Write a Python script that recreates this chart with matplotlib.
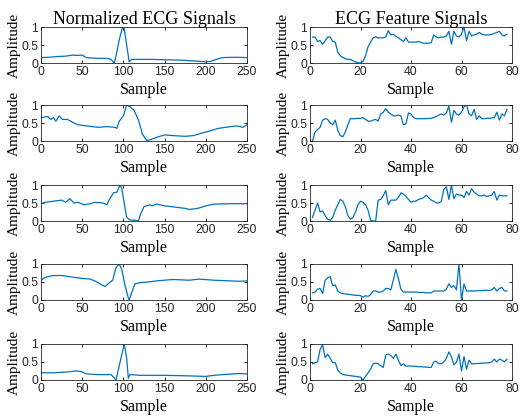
import numpy as np
import matplotlib
matplotlib.use("Agg")
import matplotlib.pyplot as plt

# Normalized ECG signals (left column), read at selected sample positions
ecg_x = [
    [0, 10, 20, 30, 38, 45, 50, 55, 60, 70, 80, 85, 89, 92, 95, 99, 101, 104, 107, 110, 120, 135, 150, 170, 190, 200, 205, 210, 220, 235, 250],
    [0, 8, 12, 15, 18, 22, 26, 32, 40, 45, 55, 62, 70, 80, 90, 92, 95, 100, 104, 108, 113, 118, 123, 128, 132, 140, 150, 160, 175, 185, 195, 205, 215, 230, 238, 245, 250],
    [0, 5, 15, 25, 30, 35, 40, 45, 52, 60, 65, 75, 80, 83, 88, 92, 96, 98, 101, 104, 108, 115, 118, 121, 125, 132, 135, 140, 150, 165, 175, 180, 190, 200, 210, 230, 250],
    [0, 5, 15, 25, 40, 50, 60, 68, 75, 78, 83, 87, 91, 95, 98, 102, 106, 107, 110, 114, 120, 130, 140, 150, 160, 170, 180, 192, 210, 230, 240, 250],
    [0, 15, 30, 42, 48, 55, 70, 85, 88, 91, 95, 101, 104, 106, 108, 120, 150, 170, 185, 200, 210, 220, 240, 250],
]
ecg_y = [
    [0.15, 0.16, 0.18, 0.19, 0.22, 0.21, 0.22, 0.15, 0.14, 0.13, 0.13, 0.1, 0.0, 0.3, 0.65, 1.0, 0.95, 0.5, 0.03, 0.1, 0.1, 0.1, 0.09, 0.08, 0.05, 0.03, 0.04, 0.08, 0.15, 0.16, 0.15],
    [0.65, 0.68, 0.6, 0.65, 0.55, 0.7, 0.6, 0.6, 0.5, 0.45, 0.42, 0.4, 0.38, 0.4, 0.38, 0.35, 0.55, 0.7, 1.0, 0.95, 0.85, 0.6, 0.2, 0.02, 0.03, 0.1, 0.17, 0.15, 0.13, 0.15, 0.22, 0.28, 0.35, 0.4, 0.42, 0.38, 0.45],
    [0.48, 0.52, 0.55, 0.58, 0.52, 0.62, 0.5, 0.52, 0.45, 0.48, 0.52, 0.5, 0.45, 0.6, 0.78, 0.8, 1.0, 0.9, 0.5, 0.1, 0.03, 0.02, 0.0, 0.2, 0.4, 0.45, 0.42, 0.47, 0.42, 0.38, 0.35, 0.32, 0.35, 0.42, 0.47, 0.48, 0.48],
    [0.55, 0.63, 0.68, 0.68, 0.63, 0.6, 0.58, 0.5, 0.4, 0.38, 0.48, 0.55, 0.9, 1.0, 0.85, 0.4, 0.05, 0.0, 0.2, 0.45, 0.48, 0.5, 0.53, 0.55, 0.57, 0.56, 0.55, 0.58, 0.55, 0.53, 0.52, 0.53],
    [0.2, 0.2, 0.22, 0.25, 0.24, 0.17, 0.15, 0.15, 0.08, 0.0, 0.4, 1.0, 0.6, 0.05, 0.15, 0.13, 0.13, 0.12, 0.11, 0.1, 0.13, 0.15, 0.18, 0.17],
]

# ECG feature signals (right column), samples 1..78
feat_x = list(range(1, 79))
feat_y = [
    [0.72, 0.72, 0.6, 0.62, 0.52, 0.62, 0.72, 0.72, 0.6, 0.58, 0.3, 0.2, 0.15, 0.12, 0.1, 0.1, 0.06, 0.03, 0.01, 0.0,
     0.05, 0.2, 0.45, 0.58, 0.7, 0.73, 0.7, 0.7, 0.7, 0.72, 0.9, 0.78, 0.8, 0.74, 0.7, 0.65, 0.6, 0.7, 0.58, 0.58,
     0.58, 0.58, 0.6, 0.57, 0.55, 0.55, 0.55, 0.56, 0.78, 0.72, 0.7, 0.72, 0.72, 0.75, 0.88, 0.52, 0.88, 0.75, 0.72, 0.8,
     1.0, 0.62, 0.88, 0.75, 0.78, 0.8, 0.85, 0.8, 0.78, 0.78, 0.78, 0.8, 0.82, 0.85, 0.88, 0.78, 0.75, 0.8],
    [0.0, 0.25, 0.32, 0.38, 0.58, 0.62, 0.6, 0.5, 0.45, 0.58, 0.3, 0.15, 0.12, 0.25, 0.45, 0.62, 0.62, 0.62, 0.63, 0.63,
     0.65, 0.6, 0.55, 0.55, 0.58, 0.6, 0.55, 0.75, 0.8, 0.9, 0.8, 0.75, 0.7, 0.7, 0.72, 0.7, 0.45, 0.48, 0.78, 0.75,
     0.65, 0.62, 0.62, 0.62, 0.62, 0.62, 0.63, 0.63, 0.65, 0.68, 0.72, 0.75, 0.72, 0.78, 0.97, 0.52, 0.85, 0.75, 0.72, 0.8,
     0.95, 1.0, 0.75, 0.7, 0.88, 0.6, 0.7, 0.62, 0.62, 0.63, 0.63, 0.64, 0.65, 0.8, 0.58, 0.75, 0.7, 0.88],
    [0.1, 0.3, 0.5, 0.25, 0.28, 0.15, 0.05, 0.02, 0.1, 0.3, 0.45, 0.6, 0.55, 0.4, 0.15, 0.05, 0.1, 0.25, 0.45, 0.55,
     0.52, 0.45, 0.3, 0.02, 0.0, 0.0, 0.58, 0.6, 0.7, 0.85, 0.45, 0.58, 0.58, 0.58, 0.65, 0.78, 0.75, 0.68, 0.6, 0.52,
     0.55, 0.55, 0.6, 0.62, 0.65, 0.72, 0.65, 0.58, 0.55, 0.5, 0.5, 0.55, 0.88, 0.95, 0.6, 1.0, 0.62, 0.75, 0.72, 0.72,
     0.65, 0.82, 0.72, 0.9, 0.8, 0.75, 0.7, 0.7, 0.72, 0.68, 0.7, 0.72, 0.82, 0.58, 0.72, 0.7, 0.7, 0.7],
    [0.2, 0.22, 0.3, 0.32, 0.18, 0.55, 0.62, 0.65, 0.4, 0.42, 0.25, 0.2, 0.18, 0.17, 0.16, 0.15, 0.14, 0.13, 0.13, 0.12,
     0.08, 0.12, 0.1, 0.15, 0.25, 0.25, 0.22, 0.22, 0.25, 0.32, 0.32, 0.28, 0.55, 0.85, 0.6, 0.3, 0.22, 0.22, 0.22, 0.22,
     0.22, 0.22, 0.21, 0.21, 0.21, 0.2, 0.2, 0.2, 0.25, 0.25, 0.25, 0.25, 0.25, 0.3, 0.45, 0.35, 0.4, 0.28, 1.0, 0.0,
     0.45, 0.25, 0.25, 0.25, 0.25, 0.26, 0.26, 0.26, 0.27, 0.27, 0.27, 0.28, 0.35, 0.25, 0.32, 0.35, 0.25, 0.25],
    [0.45, 0.48, 0.5, 0.85, 0.98, 0.62, 0.72, 0.6, 0.48, 0.48, 0.28, 0.2, 0.15, 0.14, 0.13, 0.12, 0.11, 0.1, 0.09, 0.08,
     0.0, 0.1, 0.2, 0.3, 0.45, 0.47, 0.45, 0.4, 0.35, 0.7, 0.72, 0.68, 0.6, 0.72, 0.55, 0.4, 0.45, 0.38, 0.39, 0.39,
     0.38, 0.38, 0.37, 0.37, 0.36, 0.36, 0.35, 0.35, 0.5, 0.52, 0.45, 0.45, 0.5, 0.6, 0.78, 0.65, 0.42, 0.5, 0.72, 0.25,
     0.65, 0.3, 0.55, 0.45, 0.45, 0.46, 0.46, 0.47, 0.47, 0.47, 0.48, 0.5, 0.58, 0.5, 0.58, 0.55, 0.5, 0.58],
]

line_color = '#0072BD'
serif = 'Liberation Serif'
sans = 'Liberation Sans'

W, H = 520, 416
fig = plt.figure(figsize=(W / 100, H / 100), dpi=100)

row_tops = [27, 105, 185, 264, 344]
row_h = 36
col_left = [41, 310]
col_w = [206, 202]


def style_axis(ax, xmax, xticks):
    ax.set_xlim(0, xmax)
    ax.set_ylim(0, 1)
    ax.set_xticks(xticks)
    ax.set_yticks([0, 0.5, 1])
    ax.set_yticklabels(['0', '0.5', '1'])
    ax.tick_params(direction='in', length=2.5, width=0.6, labelsize=8.8, pad=2,
                   top=True, right=True)
    for lab in ax.get_xticklabels() + ax.get_yticklabels():
        lab.set_fontfamily(sans)
        lab.set_color('#262626')
    for sp in ax.spines.values():
        sp.set_linewidth(0.6)
        sp.set_color('#262626')
    ax.set_xlabel('Sample', fontfamily=serif, fontsize=11.5, labelpad=3)
    ax.set_ylabel('Amplitude', fontfamily=serif, fontsize=11, labelpad=0)


for r in range(5):
    top = row_tops[r]
    for c in range(2):
        ax = fig.add_axes([col_left[c] / W, 1 - (top + row_h) / H, col_w[c] / W, row_h / H])
        if c == 0:
            ax.plot(ecg_x[r], ecg_y[r], color=line_color, linewidth=0.9)
            style_axis(ax, 250, [0, 50, 100, 150, 200, 250])
            if r == 0:
                ax.set_title('Normalized ECG Signals', fontfamily=serif, fontsize=13, pad=2)
        else:
            ax.plot(feat_x, feat_y[r], color=line_color, linewidth=0.9)
            style_axis(ax, 80, [0, 20, 40, 60, 80])
            if r == 0:
                ax.set_title('ECG Feature Signals', fontfamily=serif, fontsize=13, pad=2)

fig.savefig('out.png', dpi=100)
